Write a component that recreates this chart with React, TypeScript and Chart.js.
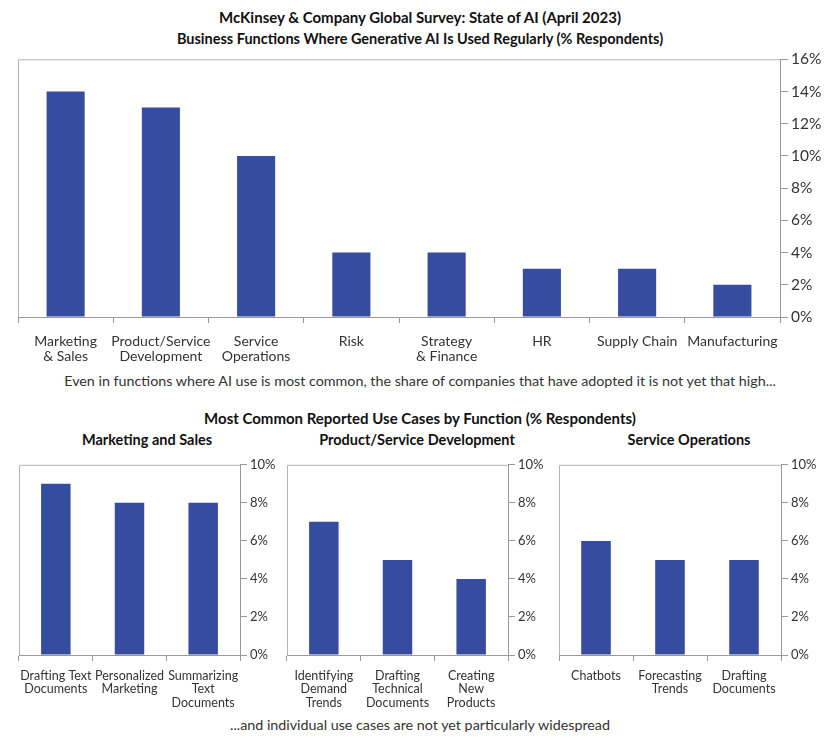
import { useEffect, useRef } from 'react';
import { Chart, registerables } from 'chart.js';

Chart.register(...registerables);

// 상단 차트 데이터
const mainCategories: (string | string[])[] = [
  ['Marketing', '& Sales'],
  ['Product/Service', 'Development'],
  ['Service', 'Operations'],
  'Risk',
  ['Strategy', '& Finance'],
  'HR',
  'Supply Chain',
  'Manufacturing',
];
const mainValues = [14, 13, 10, 4, 4, 3, 3, 2];
const mainMax = 16;

// 하단 차트 데이터
const mktCategories: (string | string[])[] = [
  ['Drafting Text', 'Documents'],
  ['Personalized', 'Marketing'],
  ['Summarizing', 'Text', 'Documents'],
];
const mktValues = [9, 8, 8];

const devCategories: (string | string[])[] = [
  ['Identifying', 'Demand', 'Trends'],
  ['Drafting', 'Technical', 'Documents'],
  ['Creating', 'New', 'Products'],
];
const devValues = [7, 5, 4];

const opsCategories: (string | string[])[] = [
  'Chatbots',
  ['Forecasting', 'Trends'],
  ['Drafting', 'Documents'],
];
const opsValues = [6, 5, 5];
const smallMax = 10;

const BAR = '#364ca0';
const AXIS = '#999999';
const FRAME = '#b4b4b4';
const TEXT = '#333333';
const FONT = 'Lato, "DejaVu Sans", sans-serif';

// 플롯 영역 위/왼쪽 테두리
const framePlugin = {
  id: 'frame',
  afterDraw(chart: Chart) {
    const { ctx, chartArea } = chart;
    ctx.save();
    ctx.strokeStyle = FRAME;
    ctx.lineWidth = 1;
    ctx.beginPath();
    ctx.moveTo(chartArea.left + 0.5, chartArea.bottom);
    ctx.lineTo(chartArea.left + 0.5, chartArea.top + 0.5);
    ctx.lineTo(chartArea.right, chartArea.top + 0.5);
    ctx.stroke();
    ctx.restore();
  },
};

interface PanelProps {
  labels: (string | string[])[];
  values: number[];
  max: number;
  left: number;
  top: number;
  width: number;
  height: number;
  padLeft: number;
  padTop: number;
  yWidth: number;
  xHeight: number;
  xFont: number;
  xLine: number;
  xPad: number;
  yFont: number;
  yTick: number;
}

function BarPanel(p: PanelProps) {
  const canvasRef = useRef<HTMLCanvasElement>(null);

  useEffect(() => {
    if (!canvasRef.current) return;
    const chart = new Chart(canvasRef.current, {
      type: 'bar',
      data: {
        labels: p.labels,
        datasets: [{
          data: p.values,
          backgroundColor: BAR,
          borderWidth: 0,
          categoryPercentage: 1,
          barPercentage: 0.4,
        }],
      },
      options: {
        responsive: false,
        animation: false,
        layout: { padding: { left: p.padLeft, top: p.padTop, right: 0, bottom: 0 } },
        plugins: { legend: { display: false }, tooltip: { enabled: false }, title: { display: false } },
        scales: {
          x: {
            grid: { drawOnChartArea: false, drawTicks: true, tickLength: 6, color: AXIS, offset: true },
            border: { color: AXIS },
            ticks: {
              color: TEXT,
              font: { family: FONT, size: p.xFont, lineHeight: p.xLine },
              padding: p.xPad,
              maxRotation: 0,
              autoSkip: false,
            },
            afterFit: (s: any) => { s.height = p.xHeight; },
          },
          y: {
            position: 'right',
            min: 0,
            max: p.max,
            grid: { drawOnChartArea: false, drawTicks: true, tickLength: p.yTick, color: AXIS },
            border: { color: AXIS },
            ticks: {
              stepSize: 2,
              color: TEXT,
              padding: 3,
              font: { family: FONT, size: p.yFont },
              callback: (v: any) => v + '%',
            },
            afterFit: (s: any) => { s.width = p.yWidth; },
          },
        },
      },
      plugins: [framePlugin],
    });
    return () => chart.destroy();
  }, []);

  return (
    <canvas
      ref={canvasRef}
      width={p.width}
      height={p.height}
      style={{ position: 'absolute', left: p.left, top: p.top, width: p.width, height: p.height }}
    />
  );
}

const textStyle = (top: number, size: number, bold: boolean, left = 0, width = 840): React.CSSProperties => ({
  position: 'absolute',
  left,
  top,
  width,
  textAlign: 'center',
  fontFamily: FONT,
  fontSize: size,
  fontWeight: bold ? 700 : 400,
  color: bold ? '#111' : TEXT,
  lineHeight: 1,
  whiteSpace: 'nowrap',
});

export default function App() {
  return (
    <div style={{ position: 'absolute', left: 0, top: 0, width: 840, height: 748, background: '#fff', overflow: 'hidden' }}>
      <div style={textStyle(10, 15, true)}>McKinsey &amp; Company Global Survey: State of AI (April 2023)</div>
      <div style={textStyle(32, 14.5, true)}>Business Functions Where Generative AI Is Used Regularly (% Respondents)</div>

      <BarPanel
        labels={mainCategories} values={mainValues} max={mainMax}
        left={0} top={47} width={840} height={323}
        padLeft={18} padTop={6} yWidth={60} xHeight={53}
        xFont={14} xLine={1.05} xPad={11} yFont={15.5} yTick={8}
      />

      <div style={textStyle(374, 14.3, false)}>Even in functions where AI use is most common, the share of companies that have adopted it is not yet that high...</div>

      <div style={textStyle(411, 15, true)}>Most Common Reported Use Cases by Function (% Respondents)</div>
      <div style={textStyle(433, 14.5, true, 0, 294)}>Marketing and Sales</div>
      <div style={textStyle(433, 14.5, true, 280, 274)}>Product/Service Development</div>
      <div style={textStyle(433, 14.5, true, 552, 274)}>Service Operations</div>

      <BarPanel
        labels={mktCategories} values={mktValues} max={smallMax}
        left={0} top={454} width={280} height={261}
        padLeft={19} padTop={8} yWidth={40} xHeight={60}
        xFont={12.5} xLine={1.08} xPad={8} yFont={13} yTick={7}
      />
      <BarPanel
        labels={devCategories} values={devValues} max={smallMax}
        left={280} top={454} width={272} height={261}
        padLeft={7} padTop={8} yWidth={44} xHeight={60}
        xFont={12.5} xLine={1.08} xPad={8} yFont={13} yTick={7}
      />
      <BarPanel
        labels={opsCategories} values={opsValues} max={smallMax}
        left={552} top={454} width={288} height={261}
        padLeft={7} padTop={8} yWidth={59} xHeight={60}
        xFont={12.5} xLine={1.08} xPad={8} yFont={13} yTick={7}
      />

      <div style={textStyle(718, 14.3, false)}>...and individual use cases are not yet particularly widespread</div>
    </div>
  );
}
